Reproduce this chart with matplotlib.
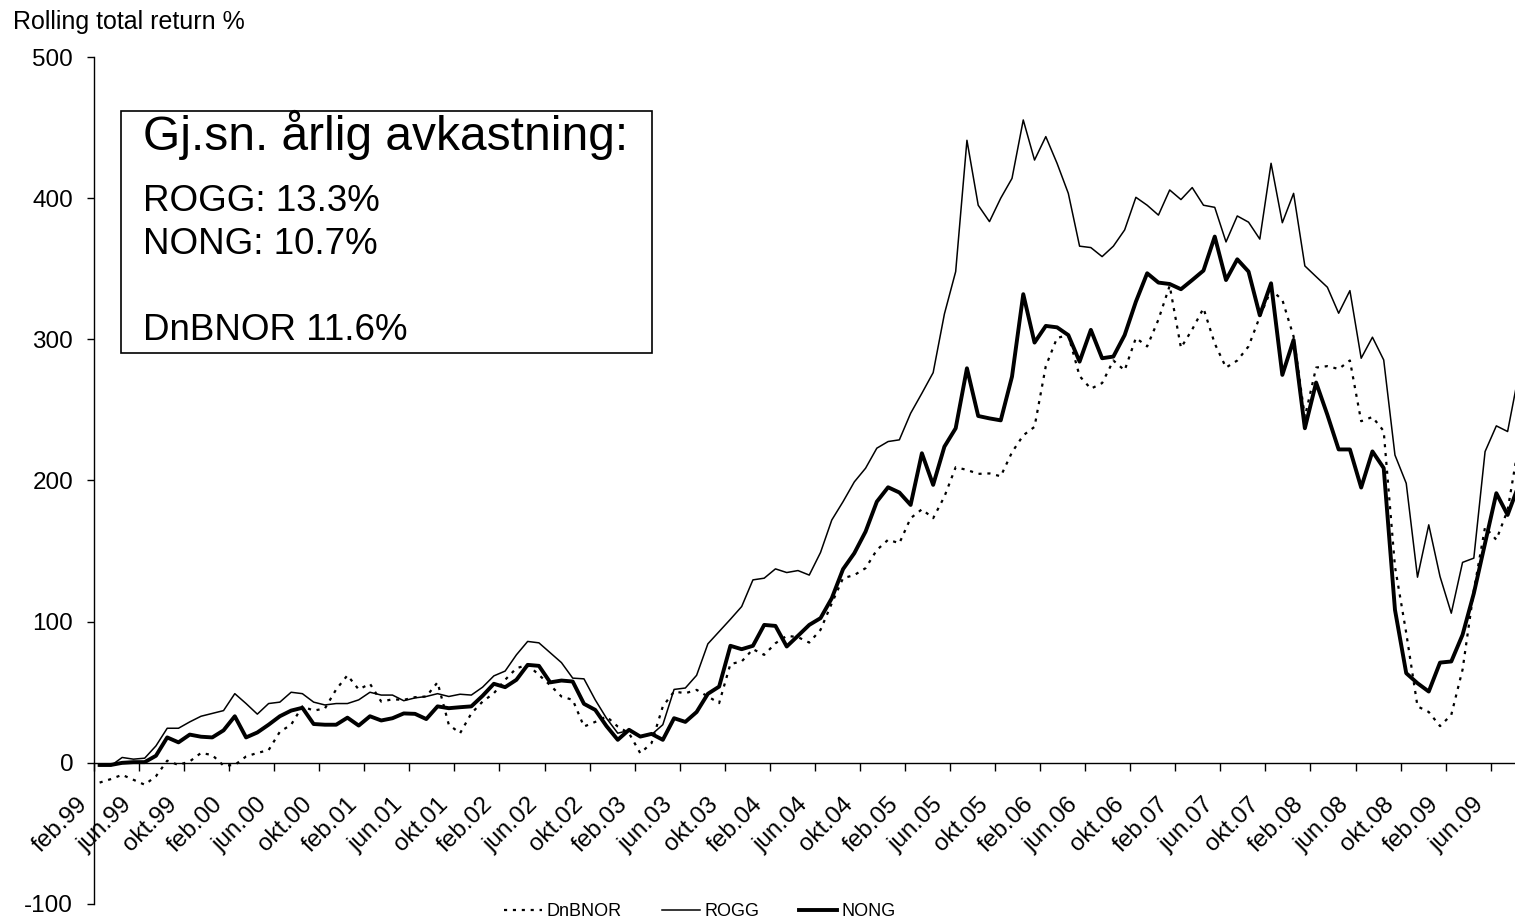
import numpy as np
import matplotlib
matplotlib.use("Agg")
import matplotlib.pyplot as plt
from matplotlib.patches import Rectangle
from matplotlib.lines import Line2D
from matplotlib.transforms import ScaledTranslation

plt.rcParams["font.family"] = ["Liberation Sans", "DejaVu Sans"]
plt.rcParams["axes.unicode_minus"] = False

# Monthly rolling total return (%), feb.99 onwards
rogg = [-2, -2, 3.8, 2.6, 3.3, 12, 24.5, 24.5, 29, 33, 35, 37, 49, 42, 34.5, 42,
        43, 50, 49, 43, 41, 42, 42, 44.6, 50, 48, 48, 44, 46, 47, 49, 47,
        48.6, 48, 53.6, 61.6, 65, 76.5, 86, 85, 78, 71, 60, 59.5, 44.6, 31.6, 21, 23,
        18.6, 20, 27, 52, 53, 62, 84.3, 93, 101.7, 110.7, 129.6, 130.8, 137.4, 134.8, 136.2, 133,
        149, 172, 185, 199, 208.7, 222.9, 227.6, 228.8, 247.6, 261.8, 276.4, 318, 348, 441, 395, 383.4,
        400, 414, 455.4, 427, 443.6, 424.7, 403.4, 366, 365, 358.6, 366, 377.5, 400.6, 395, 388, 405.8,
        399, 407.5, 395, 393.5, 369, 387.4, 383, 371, 424.7, 382.6, 403.4, 352, 344.4, 336.9, 318.5, 334.5,
        286.6, 301.5, 285.4, 218, 198, 131.5, 168.6, 132, 106, 142, 145, 220.5, 238.7, 234.7, 276]

nong = [-1.5, -1.5, 0, 0.5, 0.5, 5, 18, 14.5, 20, 18.5, 18, 23, 33, 18, 21.5, 27,
        33, 37, 39, 27.5, 27, 27, 32, 26.4, 33, 30, 31.6, 35, 34.7, 31, 40, 38.7,
        39.4, 40, 47.5, 56, 53.6, 58.8, 69.4, 68.7, 57, 58.3, 57.6, 41.8, 37.5, 26, 16.3, 23.4,
        18.6, 20.5, 16.3, 31.6, 29, 36, 48.9, 54, 82.9, 80.5, 82.9, 97.7, 97, 82.4, 90, 97.7,
        102.5, 116.6, 137.2, 148.5, 163.8, 185, 195.2, 191.5, 182.7, 219.3, 196.9, 224, 237, 279.5, 245.7, 244,
        242.6, 273.6, 332, 297.7, 309.5, 308.5, 303, 284.2, 306.7, 286.6, 287.8, 303, 326.7, 346.8, 340.2, 339.2,
        335.5, 342, 348.7, 372.8, 342, 356.7, 348, 317, 339.7, 274.8, 299.6, 237, 269.4, 246.5, 222, 222,
        195, 220.6, 208.8, 108.4, 63.5, 56.4, 50.5, 71, 71.8, 90.7, 120, 155.6, 191, 175.6, 197]

dnbnor = [-14, -11.5, -8.5, -12, -15.5, -9.5, 1.5, -1.5, 1, 7, 5.5, -2, -1.5, 4.5, 7, 9,
          22, 27, 40, 37, 38.5, 52, 62, 52, 56, 43.4, 45, 44.6, 46.5, 47, 57, 27,
          21, 35, 43.4, 49.3, 58.8, 67, 69.4, 62.3, 55, 47, 44.6, 25.7, 29, 32.8, 25.7, 21,
          6.8, 14, 40, 50.5, 49.3, 51.7, 47, 42.3, 70, 71.8, 80.5, 76.5, 84.7, 90, 89, 85.2,
          94.2, 113, 130.8, 133, 137.9, 150.8, 158, 155.6, 173.3, 179.6, 173.3, 188.6, 209.4, 207.5, 204.7, 205,
          203, 220, 232, 238, 281, 301, 303, 274, 265, 269, 285, 278, 301, 295, 314, 338,
          294, 307, 322, 297, 280, 285, 295, 316, 335, 328, 302, 245, 280, 281, 279, 285,
          242, 245, 235, 139, 92, 40, 36, 26, 34, 66, 122, 167, 158, 179, 226]

tick_labels = ["feb.99", "jun.99", "okt.99", "feb.00", "jun.00", "okt.00", "feb.01", "jun.01",
               "okt.01", "feb.02", "jun.02", "okt.02", "feb.03", "jun.03", "okt.03", "feb.04",
               "jun.04", "okt.04", "feb.05", "jun.05", "okt.05", "feb.06", "jun.06", "okt.06",
               "feb.07", "jun.07", "okt.07", "feb.08", "jun.08", "okt.08", "feb.09", "jun.09"]

box_lines = ["ROGG: 13.3%", "NONG: 10.7%", "DnBNOR 11.6%"]

W, H = 1515, 924
fig = plt.figure(figsize=(W / 100, H / 100), dpi=100)
n = len(rogg)
x = np.arange(n)

# plot area runs a little past the right edge of the picture
left, right, top, bottom = 94, 1524.5, 57, 904
ax = fig.add_axes([left / W, (H - bottom) / H, (right - left) / W, (bottom - top) / H])
ax.set_xlim(-0.5, n - 0.5)
ax.set_ylim(-100, 500)

dot = (0, (1.4, 2.6))
ax.plot(x, dnbnor, color="black", lw=1.6, linestyle=dot, label="DnBNOR")
ax.plot(x, rogg, color="black", lw=1.1, label="ROGG")
ax.plot(x, nong, color="black", lw=2.8, label="NONG")

for s in ["top", "right"]:
    ax.spines[s].set_visible(False)
ax.spines["bottom"].set_position(("data", 0))
ax.spines["left"].set_linewidth(1.0)
ax.spines["bottom"].set_linewidth(1.0)

ax.set_yticks(range(-100, 501, 100))
ax.tick_params(axis="y", direction="out", length=5, width=1, pad=10, labelsize=17.5)

major = np.arange(0, n, 4)
ax.set_xticks(major)
ax.set_xticklabels(tick_labels[: len(major)], rotation=45, ha="right", va="top")
ax.set_xticks(np.arange(-0.5, n, 4), minor=True)
ax.tick_params(axis="x", which="major", length=0, pad=22, labelsize=17.5)
ax.tick_params(axis="x", which="minor", direction="out", length=6, width=1)
shift = ScaledTranslation(-8 / 100, 0, fig.dpi_scale_trans)
for lab in ax.get_xticklabels():
    lab.set_transform(lab.get_transform() + shift)

fig.text(13 / W, 1 - 22 / H, "Rolling total return %", fontsize=18, va="center", ha="left")

# summary box
fig.patches.append(Rectangle((121 / W, 1 - 353 / H), (652 - 121) / W, (353 - 111) / H,
                             transform=fig.transFigure, fill=False, edgecolor="black", lw=1.2))
fig.text(143 / W, 1 - 150 / H, "Gj.sn. årlig avkastning:", fontsize=34.5, va="baseline", ha="left")
for txt, yy in zip(box_lines, [211, 254, 340]):
    fig.text(143 / W, 1 - yy / H, txt, fontsize=26.5, va="baseline", ha="left")

handles = [Line2D([], [], color="black", lw=1.6, linestyle=dot),
           Line2D([], [], color="black", lw=1.1),
           Line2D([], [], color="black", lw=2.8)]
fig.legend(handles, ["DnBNOR", "ROGG", "NONG"], loc="center", bbox_to_anchor=(700 / W, 12 / H),
           ncol=3, frameon=False, handlelength=2.1, handletextpad=0.25, columnspacing=2.2,
           borderpad=0, fontsize=13)

fig.savefig("out.png", dpi=100)
